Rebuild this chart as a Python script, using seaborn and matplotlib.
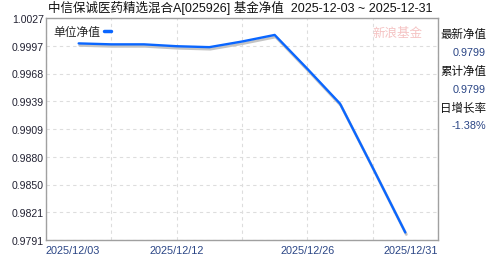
import matplotlib
matplotlib.use("Agg")
import matplotlib.pyplot as plt
import matplotlib.transforms as mtransforms
import seaborn as sns
import pandas as pd
import numpy as np

# ---- data ----
x_index = [1, 2, 3, 4, 5, 6, 7, 8, 9, 10, 11]
nav_values = [1.0000, 0.9999, 0.9999, 0.9997, 0.9996, 1.0002, 1.0009,
              0.9973, 0.9936, 0.9868, 0.9799]
x_tick_pos = [0, 2, 4, 6, 8, 10, 12]
x_tick_labels = ["2025/12/03", "", "2025/12/12", "", "2025/12/26", "", "2025/12/31"]
y_tick_labels = ["0.9791", "0.9821", "0.9850", "0.9880", "0.9909",
                 "0.9939", "0.9968", "0.9997", "1.0027"]
y_min, y_max = 0.9791, 1.0027
title_text = "中信保诚医药精选混合A[025926] 基金净值  2025-12-03 ~ 2025-12-31"
legend_label = "单位净值"
side_labels = ["最新净值", "累计净值", "日增长率"]
side_values = ["0.9799", "0.9799", "-1.38%"]

df = pd.DataFrame({"x": x_index, "nav": nav_values})

sns.set_style("white")
plt.rcParams['font.family'] = ['Noto Sans CJK SC', 'DejaVu Sans']

W, H = 488, 255
fig = plt.figure(figsize=(W / 100, H / 100), dpi=100)
fig.patch.set_facecolor("white")
L, R, T, B = 46, 438, 19, 241
ax = fig.add_axes([L / W, 1 - B / H, (R - L) / W, (B - T) / H])

# shadow
shadow_tr = mtransforms.offset_copy(ax.transData, fig=fig, x=1, y=-2, units='dots')
sns.lineplot(data=df, x="x", y="nav", ax=ax, color="#c4c4c4", linewidth=2.0,
             transform=shadow_tr, legend=False)
sns.lineplot(data=df, x="x", y="nav", ax=ax, color="#0a66ff", linewidth=1.7,
             label=legend_label)

ax.set_xlim(0, 12)
ax.set_ylim(y_min, y_max)
yt = np.linspace(y_min, y_max, len(y_tick_labels))
ax.set_yticks(yt)
ax.set_yticklabels(y_tick_labels, fontfamily="Liberation Sans", fontsize=7.6, color="#222233")
ax.set_xticks(x_tick_pos)
ax.set_xticklabels(x_tick_labels, fontfamily="Liberation Sans", fontsize=7.8, color="#2a4585")
xl = ax.get_xticklabels()
xl[0].set_horizontalalignment("left")
xl[-1].set_horizontalalignment("right")
ax.tick_params(axis="both", length=0, pad=1.5)
ax.tick_params(axis="x", pad=3.5)
ax.set_xlabel("")
ax.set_ylabel("")
ax.grid(True, color="#dddddd", linestyle=(0, (3, 3)), linewidth=0.8)
for s in ax.spines.values():
    s.set_color("#a0a0a0")
    s.set_linewidth(1.0)

leg = ax.legend(loc="upper left", frameon=False, markerfirst=False,
                handlelength=0.6, handletextpad=0.3, borderaxespad=0.2,
                prop={"family": "Noto Sans CJK SC", "size": 8.5})
for h in leg.get_lines():
    h.set_linewidth(2.5)

# watermark
fig.text(397 / W, 1 - 33 / H, "新浪基金", fontsize=9, color="#f4bcbc",
         ha="center", va="center", style="italic", alpha=0.9)

# title
fig.text(48 / W, 1 - 8 / H, title_text, fontsize=9, color="#111111",
         ha="left", va="center", family=['Liberation Sans', 'Noto Sans CJK SC'])

# side panel
label_y = [35, 72, 108]
value_y = [53, 90, 126]
for lab, ly in zip(side_labels, label_y):
    fig.text(440 / W, 1 - ly / H, lab, fontsize=8.3, color="#111111",
             ha="left", va="center")
for val, vy in zip(side_values, value_y):
    fig.text(486 / W, 1 - vy / H, val, fontsize=7.8, color="#2a4585",
             ha="right", va="center", fontfamily="Liberation Sans")

fig.savefig("out.png", dpi=100)
